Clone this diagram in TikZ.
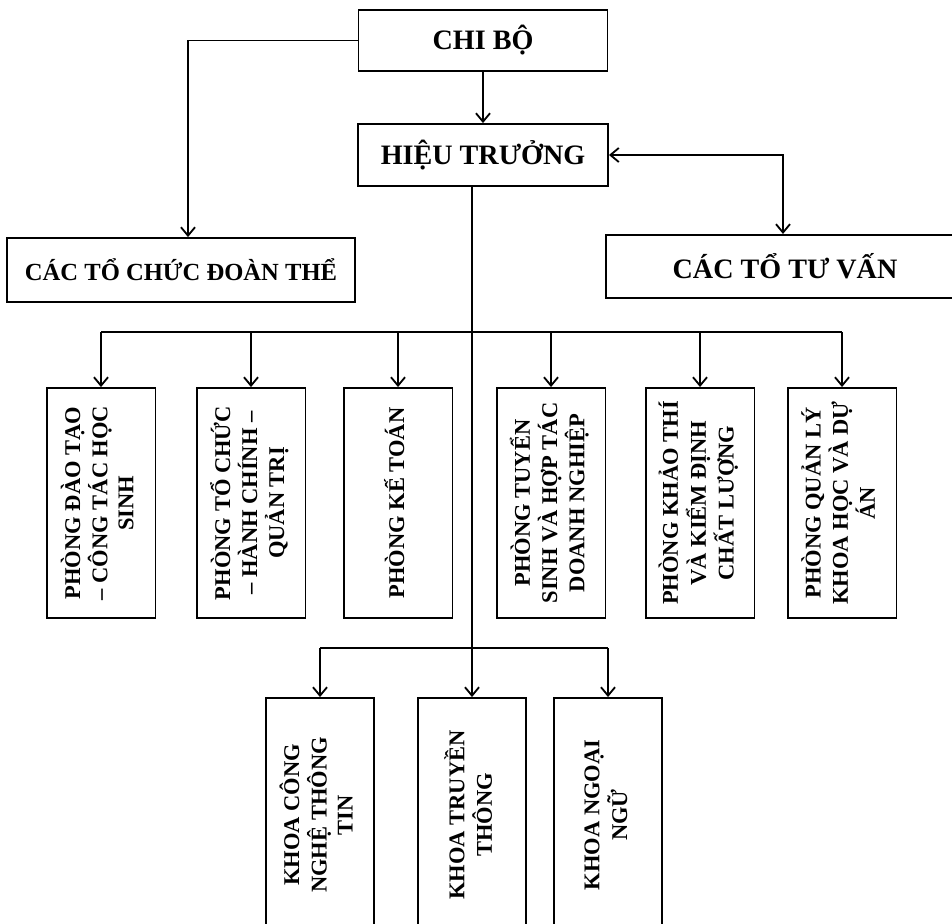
\documentclass[tikz,border=0pt]{standalone}
\usepackage{fontspec}
\setmainfont{Liberation Serif}
\usepackage{graphicx}
\usetikzlibrary{arrows.meta}
\newcommand{\vtext}[1]{\rotatebox{90}{\begin{tabular}{@{}c@{}}#1\end{tabular}}}

\begin{document}
\begin{tikzpicture}[
    x=0.025cm, y=-0.025cm,
    >={Straight Barb[length=6pt,width=10pt]},
    conn/.style={line width=1.3pt, ->},
    bus/.style={line width=1.3pt},
    headbox/.style={draw, line width=1.3pt, inner sep=0pt, font=\bfseries\fontsize{20}{24}\selectfont},
    deptbox/.style={draw, line width=1.3pt, inner sep=0pt, minimum width=2.72cm, minimum height=5.75cm,
        font=\bfseries\fontsize{16}{18.5}\selectfont},
    khoabox/.style={deptbox, minimum width=2.68cm, minimum height=5.85cm}
    ]

    \useasboundingbox (0,0) rectangle (952,924);
    \clip (0,0) rectangle (952,924);

    % top
    \node[headbox, minimum width=6.22cm, minimum height=1.52cm] (chibo) at (483,40.5) {CHI BỘ};
    \node[headbox, minimum width=6.25cm, minimum height=1.55cm] (hieutruong) at (483,155) {HIỆU TRƯỞNG};
    \node[headbox, minimum width=8.7cm, minimum height=1.6cm, font=\bfseries\fontsize{17.5}{21}\selectfont] (doanthe) at (181,270) {CÁC TỔ CHỨC ĐOÀN THỂ};
    \node[headbox, minimum width=8.95cm, minimum height=1.58cm] (tuvan) at (785,266.5) {CÁC TỔ TƯ VẤN};

    % phong
    \node[deptbox] (dept1) at (101,503) {\vtext{PHÒNG ĐÀO TẠO\\ – CÔNG TÁC HỌC\\ SINH}};
    \node[deptbox] (dept2) at (251,503) {\vtext{PHÒNG TỔ CHỨC\\ – HÀNH CHÍNH –\\ QUẢN TRỊ}};
    \node[deptbox] (dept3) at (398,503) {\vtext{PHÒNG KẾ TOÁN}};
    \node[deptbox] (dept4) at (551,503) {\vtext{PHÒNG TUYỂN\\ SINH VÀ HỢP TÁC\\ DOANH NGHIỆP}};
    \node[deptbox] (dept5) at (700,503) {\vtext{PHÒNG KHẢO THÍ\\ VÀ KIỂM ĐỊNH\\ CHẤT LƯỢNG}};
    \node[deptbox] (dept6) at (842,503) {\vtext{PHÒNG QUẢN LÝ\\ KHOA HỌC VÀ DỰ\\ ÁN}};

    % khoa
    \node[khoabox] (khoaA) at (320,815) {\vtext{KHOA CÔNG\\ NGHỆ THÔNG\\ TIN}};
    \node[khoabox] (khoaB) at (472,815) {\vtext{KHOA TRUYỀN\\ THÔNG}};
    \node[khoabox] (khoaC) at (608,815) {\vtext{KHOA NGOẠI\\ NGỮ}};

    % connectors
    \coordinate (dtx) at (188,0);
    \coordinate (tvx) at (783,0);
    \coordinate (bus1) at (0,332);
    \coordinate (bus2) at (0,648);
    \draw[conn] (chibo.south) -- (hieutruong.north);
    \draw[conn] (chibo.west) -| (dtx |- doanthe.north);
    \draw[conn, <->] (hieutruong.east) -| (tvx |- tuvan.north);
    \draw[conn] (hieutruong.south -| khoaB.north) -- (khoaB.north);
    \draw[bus] (dept1.north |- bus1) -- (dept6.north |- bus1);
    \foreach \d in {dept1,dept2,dept3,dept4,dept5,dept6}
        \draw[conn] (\d.north |- bus1) -- (\d.north);
    \draw[bus] (khoaA.north |- bus2) -- (khoaC.north |- bus2);
    \draw[conn] (khoaA.north |- bus2) -- (khoaA.north);
    \draw[conn] (khoaC.north |- bus2) -- (khoaC.north);
\end{tikzpicture}
\end{document}
